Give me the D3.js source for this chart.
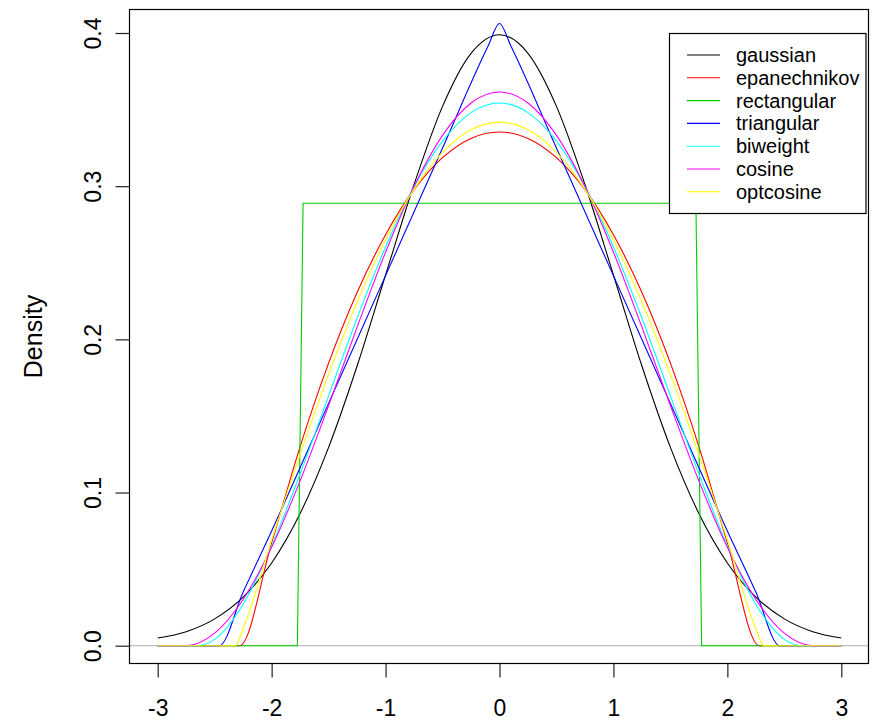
<!doctype html>
<html lang="en">
<head>
    <meta charset="UTF-8">
    <title>Kernel densities</title>
    <style>
        body { margin: 0; background: #fff; }
        text { font-family: "Liberation Sans", Arial, sans-serif; }
    </style>
</head>
<body>
    <svg id="chart" width="876" height="721"></svg>
    <script src="https://d3js.org/d3.v7.min.js"></script>
    <script>
        // kernel names / colours (legend order = draw order)
        let kernels = ["gaussian", "epanechnikov", "rectangular", "triangular", "biweight", "cosine", "optcosine"];
        let colors = ["#000000", "#ff0000", "#00cd00", "#0000ff", "#00ffff", "#ff00ff", "#ffff00"];

        // values
        let gaussianX = [-3, -2.75, -2.5, -2.25, -2, -1.75, -1.5, -1.25, -1, -0.75, -0.5, -0.25, 0,
                         0.25, 0.5, 0.75, 1, 1.25, 1.5, 1.75, 2, 2.25, 2.5, 2.75, 3];
        let gaussianY = [0.005, 0.0091, 0.0175, 0.0317, 0.054, 0.0863, 0.1295, 0.1826, 0.242, 0.3011, 0.3521, 0.3867, 0.3989,
                         0.3867, 0.3521, 0.3011, 0.242, 0.1826, 0.1295, 0.0863, 0.054, 0.0317, 0.0175, 0.0091, 0.005];

        let epanX = [-3, -2.28, -2, -1.75, -1.5, -1.25, -1, -0.75, -0.5, -0.25, 0,
                     0.25, 0.5, 0.75, 1, 1.25, 1.5, 1.75, 2, 2.28, 3];
        let epanY = [0, 0, 0.0671, 0.13, 0.1845, 0.2306, 0.2683, 0.2977, 0.3186, 0.3312, 0.3354,
                     0.3312, 0.3186, 0.2977, 0.2683, 0.2306, 0.1845, 0.13, 0.0671, 0, 0];

        let rectX = [-3, -1.774, -1.724, 1.724, 1.774, 3];
        let rectY = [0, 0, 0.2889, 0.2889, 0, 0];

        let triX = [-3, -2.46, -2.25, -2, -1.5, -1, -0.5, -0.1, 0, 0.1, 0.5, 1, 1.5, 2, 2.25, 2.46, 3];
        let triY = [0, 0, 0.035, 0.0749, 0.1582, 0.2416, 0.3249, 0.3915, 0.4062, 0.3915, 0.3249, 0.2416, 0.1582, 0.0749, 0.035, 0, 0];

        let biwX = [-3, -2.66, -2.5, -2.25, -2, -1.75, -1.5, -1.25, -1, -0.75, -0.5, -0.25, 0,
                    0.25, 0.5, 0.75, 1, 1.25, 1.5, 1.75, 2, 2.25, 2.5, 2.66, 3];
        let biwY = [0, 0, 0.0041, 0.0271, 0.0651, 0.1121, 0.1631, 0.2138, 0.2603, 0.2997, 0.3294, 0.348, 0.3543,
                    0.348, 0.3294, 0.2997, 0.2603, 0.2138, 0.1631, 0.1121, 0.0651, 0.0271, 0.0041, 0, 0];

        let cosX = [-3, -2.75, -2.5, -2.25, -2, -1.75, -1.5, -1.25, -1, -0.75, -0.5, -0.25, 0,
                    0.25, 0.5, 0.75, 1, 1.25, 1.5, 1.75, 2, 2.25, 2.5, 2.75, 3];
        let cosY = [0, 0, 0.0082, 0.0302, 0.0642, 0.1076, 0.1568, 0.208, 0.2569, 0.2998, 0.3332, 0.3543, 0.3615,
                    0.3543, 0.3332, 0.2998, 0.2569, 0.208, 0.1568, 0.1076, 0.0642, 0.0302, 0.0082, 0, 0];

        let optcosX = [-3, -2.32, -2.25, -2, -1.75, -1.5, -1.25, -1, -0.75, -0.5, -0.25, 0,
                       0.25, 0.5, 0.75, 1, 1.25, 1.5, 1.75, 2, 2.25, 2.32, 3];
        let optcosY = [0, 0, 0.0111, 0.0691, 0.1249, 0.1771, 0.2244, 0.265, 0.2979, 0.322, 0.3368, 0.3418,
                       0.3368, 0.322, 0.2979, 0.265, 0.2244, 0.1771, 0.1249, 0.0691, 0.0111, 0, 0];

        let xTicks = [-3, -2, -1, 0, 1, 2, 3];
        let yTicks = [0, 0.1, 0.2, 0.3, 0.4];

        let seriesX = [gaussianX, epanX, rectX, triX, biwX, cosX, optcosX];
        let seriesY = [gaussianY, epanY, rectY, triY, biwY, cosY, optcosY];

        // plot box (R style frame)
        let box = {left: 129.5, right: 868.5, top: 9.5, bottom: 663.5};

        let x = d3.scaleLinear().domain([-3, 3]).range([157.7, 841.3]);
        let y = d3.scaleLinear().domain([0, 0.4]).range([645.7, 33]);

        let svg = d3.select("#chart");

        // grey zero line
        svg.append("line")
            .attr("x1", box.left).attr("x2", box.right)
            .attr("y1", y(0)).attr("y2", y(0))
            .attr("stroke", "#bebebe")
            .attr("stroke-width", 1.2);

        // density curves
        kernels.forEach(function(k, i) {
            let pts = seriesX[i].map(function(v, j) { return [v, seriesY[i][j]]; });
            let line = d3.line()
                .x(function(d) { return x(d[0]); })
                .y(function(d) { return y(d[1]); })
                .curve(k === "rectangular" ? d3.curveLinear : d3.curveMonotoneX);
            svg.append("path")
                .datum(pts)
                .attr("fill", "none")
                .attr("stroke", colors[i])
                .attr("stroke-width", 1.1)
                .attr("d", line);
        });

        // frame
        svg.append("rect")
            .attr("x", box.left).attr("y", box.top)
            .attr("width", box.right - box.left)
            .attr("height", box.bottom - box.top)
            .attr("fill", "none")
            .attr("stroke", "#000")
            .attr("stroke-width", 1.2);

        // x axis
        let xAxis = svg.append("g")
            .attr("transform", "translate(0," + box.bottom + ")")
            .call(d3.axisBottom(x).tickValues(xTicks).tickSize(14).tickPadding(22)
                .tickFormat(function(d) { return d; }));
        xAxis.select(".domain").remove();
        xAxis.selectAll("line").attr("stroke", "#222").attr("stroke-width", 1.2);
        xAxis.selectAll("text")
            .attr("font-family", "Liberation Sans, Arial, sans-serif")
            .attr("font-size", 23)
            .attr("fill", "#000");

        // y axis, labels rotated like R's default las=0
        let yAxis = svg.append("g")
            .attr("transform", "translate(" + box.left + ",0)")
            .call(d3.axisLeft(y).tickValues(yTicks).tickSize(14).tickFormat(d3.format(".1f")));
        yAxis.select(".domain").remove();
        yAxis.selectAll("line").attr("stroke", "#222").attr("stroke-width", 1.2);
        yAxis.selectAll(".tick text")
            .attr("font-family", "Liberation Sans, Arial, sans-serif")
            .attr("font-size", 23)
            .attr("fill", "#000")
            .attr("text-anchor", "middle")
            .attr("x", 0).attr("y", 0).attr("dy", 0)
            .attr("transform", "translate(-29,0) rotate(-90)");

        // y label
        svg.append("text")
            .attr("transform", "translate(42," + ((box.top + box.bottom) / 2) + ") rotate(-90)")
            .attr("text-anchor", "middle")
            .attr("font-size", 25)
            .text("Density");

        // legend
        let legend = svg.append("g");
        legend.append("rect")
            .attr("x", 669.5).attr("y", 33.5)
            .attr("width", 196.5).attr("height", 180)
            .attr("fill", "#fff")
            .attr("stroke", "#000")
            .attr("stroke-width", 1.2);
        kernels.forEach(function(k, i) {
            let ry = 55 + i * 22.8;
            legend.append("line")
                .attr("x1", 687).attr("x2", 720)
                .attr("y1", ry).attr("y2", ry)
                .attr("stroke", colors[i])
                .attr("stroke-width", 1.1);
            legend.append("text")
                .attr("x", 736).attr("y", ry)
                .attr("dy", "0.35em")
                .attr("font-size", 20)
                .text(k);
        });
    </script>
</body>
</html>
